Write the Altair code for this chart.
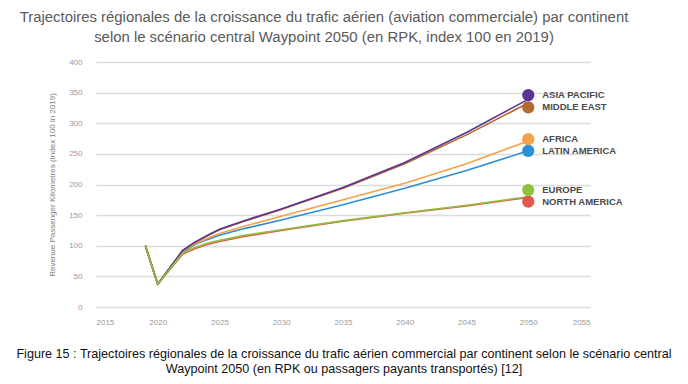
import altair as alt
import pandas as pd

years = [2019, 2020, 2022, 2023, 2024, 2025, 2027, 2030, 2035, 2040, 2045, 2050]

series = ["North America", "Latin America", "Africa", "Middle East", "Asia Pacific", "Europe"]
labels = ["NORTH AMERICA", "LATIN AMERICA", "AFRICA", "MIDDLE EAST", "ASIA PACIFIC", "EUROPE"]

asia_pacific = [100, 37, 92, 106, 117, 127, 141, 160, 195, 236, 285, 339]
middle_east = [100, 37, 92, 105, 116, 126, 140, 159, 194, 234, 281, 333]
africa = [100, 37, 91, 103, 112, 120, 132, 148, 175, 202, 234, 271]
latin_america = [100, 37, 89, 102, 110, 117, 128, 142, 167, 194, 223, 255]
europe = [100, 37, 88, 97, 104, 109, 117, 126, 141, 154, 166, 180]
north_america = [100, 37, 86, 95, 102, 107, 115, 125, 140, 153, 165, 179]

values = {
    "North America": north_america,
    "Latin America": latin_america,
    "Africa": africa,
    "Middle East": middle_east,
    "Asia Pacific": asia_pacific,
    "Europe": europe,
}

line_colors = {
    "North America": "#e4574c",
    "Latin America": "#2a8fd4",
    "Africa": "#f4a24a",
    "Middle East": "#b4692e",
    "Asia Pacific": "#5b3592",
    "Europe": "#8cc23f",
}

# end-marker (legend dot) positions, value units
dot_year = 2050
dot_values = {
    "North America": 172,
    "Latin America": 255,
    "Africa": 274,
    "Middle East": 326,
    "Asia Pacific": 346,
    "Europe": 191,
}

title_lines = [
    "Trajectoires régionales de la croissance du trafic aérien (aviation commerciale) par continent",
    "selon le scénario central Waypoint 2050 (en RPK, index 100 en 2019)",
]
caption = ("Figure 15 : Trajectoires régionales de la croissance du trafic aérien commercial par continent selon le scénario central\n"
           "Waypoint 2050 (en RPK ou passagers payants transportés) [12]")

FONT = "Liberation Sans, Arial, sans-serif"

x_scale = alt.Scale(domain=[2015, 2055], nice=False)
y_scale = alt.Scale(domain=[0, 400], nice=False)

x_axis = alt.Axis(values=list(range(2015, 2056, 5)), format="d", grid=False, domain=False,
                  ticks=False, labelPadding=11, labelFontSize=8, labelColor="#9a9a9a",
                  labelFont=FONT, title=None)
y_axis = alt.Axis(values=list(range(0, 401, 50)), grid=True, gridColor="#dcdcdc", gridWidth=1.5,
                  domain=False, ticks=False, labelPadding=14, labelFontSize=8,
                  labelColor="#9a9a9a", labelFont=FONT,
                  title="Revenue Passenger Kilometres (Index 100 in 2019)",
                  titleFont=FONT, titleFontSize=8, titleFontWeight="normal",
                  titleColor="#808080", titlePadding=12)

X = alt.X("year:Q", scale=x_scale, axis=x_axis)
Y = alt.Y("value:Q", scale=y_scale, axis=y_axis)

layers = []
for s in series:
    df = pd.DataFrame({"year": years, "value": values[s]})
    ln = alt.Chart(df).mark_line(strokeWidth=1.6, interpolate="linear", color=line_colors[s]).encode(
        x=X, y=Y,
    )
    layers.append(ln)

dots_df = pd.DataFrame({
    "series": series,
    "label": labels,
    "year": [dot_year] * len(series),
    "value": [dot_values[s] for s in series],
})

color_scale = alt.Scale(domain=series, range=[line_colors[s] for s in series])

dots = alt.Chart(dots_df).mark_circle(size=150, opacity=1).encode(
    x=X, y=Y,
    color=alt.Color("series:N", scale=color_scale, legend=None),
)

texts = alt.Chart(dots_df).mark_text(align="left", baseline="middle", dx=14, fontSize=9.5,
                                     fontWeight="bold", color="#4a4a4a", font=FONT).encode(
    x=X, y=Y,
    text="label:N",
)

cap_df = pd.DataFrame({"t": [caption]})
cap = alt.Chart(cap_df).mark_text(align="center", baseline="top", fontSize=12.6, lineHeight=15,
                                  lineBreak="\n", color="#111111", font=FONT).encode(
    x=alt.value(248), y=alt.value(286), text="t:N"
)

chart = alt.layer(*layers, dots, texts, cap).properties(
    width=494,
    height=245,
    autosize="none",
    padding={"left": 88, "top": 54, "right": 90, "bottom": 69},
    title=alt.TitleParams(text=title_lines, font=FONT, fontSize=14.9, fontWeight="normal",
                          color="#5a5a5a", anchor="middle", dx=-19, offset=13, lineHeight=20),
).configure_view(stroke=None)

chart.save("out.html", embed_options={"renderer": "svg", "actions": False})
